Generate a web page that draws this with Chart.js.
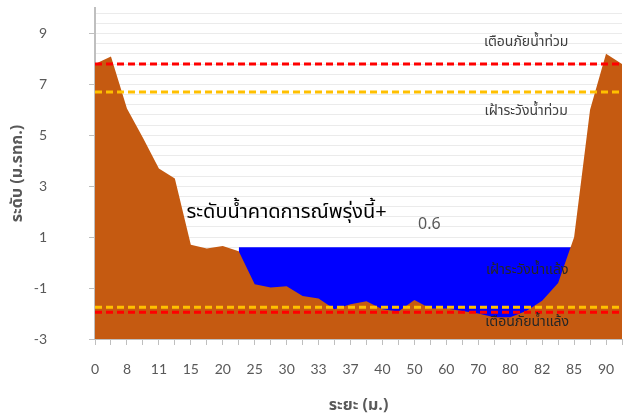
<!DOCTYPE html>
<html><head><meta charset="utf-8">
<script src="https://cdn.jsdelivr.net/npm/chart.js@4/dist/chart.umd.min.js"></script>
<style>html,body{margin:0;padding:0;background:#fff}</style>
</head><body>
<canvas id="c" width="624" height="419"></canvas>
<script>
// ---- data ----
const categories = ['0','','8','','11','','15','','20','','25','','30','','33','','37','','40','','50','','60','','70','','80','','82','','85','','90',''];
const terrainLevel = [7.8, 8.1, 6.05, 4.9, 3.7, 3.3, 0.7, 0.55, 0.65, 0.45, -0.85, -0.98, -0.93, -1.31, -1.41, -1.83, -1.64, -1.52, -1.83, -1.92, -1.47, -1.8, -1.8, -1.9, -2.0, -2.15, -2.15, -1.9, -1.5, -0.8, 1.0, 6.0, 8.2, 7.8];
const forecastWater = [null,null,null,null,null,null,null,null,null,0.6,0.6,0.6,0.6,0.6,0.6,0.6,0.6,0.6,0.6,0.6,0.6,0.6,0.6,0.6,0.6,0.6,0.6,0.6,0.6,0.6,0.6,0.6,0.6,0.6];
const forecastLevel = 0.6;
const floodWarning = 7.8;
const floodWatch = 6.7;
const droughtWatch = -1.75;
const droughtWarning = -1.95;
const yTickLabels = [-3, -1, 1, 3, 5, 7, 9];
const txtFloodWarning = 'เตือนภัยน้ำท่วม';
const txtFloodWatch = 'เฝ้าระวังน้ำท่วม';
const txtDroughtWatch = 'เฝ้าระวังน้ำแล้ง';
const txtDroughtWarning = 'เตือนภัยน้ำแล้ง';
const txtForecast = 'ระดับน้ำคาดการณ์พรุ่งนี้+';
const yTitle = 'ระดับ (ม.รทก.)';
const xTitle = 'ระยะ (ม.)';

const FONT = "'Noto Sans Thai', Tahoma, 'Leelawadee UI', Lato, 'Noto Sans', sans-serif";
const isLabeled = v => yTickLabels.some(t => Math.abs(t - v) < 1e-6);

const annot = {
  id: 'annot',
  afterDatasetsDraw(chart) {
    const {ctx, scales: {x, y}} = chart;
    ctx.save();
    ctx.textAlign = 'center';
    ctx.textBaseline = 'middle';
    ctx.font = '14px ' + FONT;
    ctx.fillStyle = '#404040';
    const lx = x.getPixelForValue(27);
    ctx.fillText(txtFloodWarning, lx, y.getPixelForValue(floodWarning) - 21);
    ctx.fillText(txtFloodWatch, lx, y.getPixelForValue(floodWatch) + 20);
    ctx.fillStyle = '#262626';
    ctx.fillText(txtDroughtWatch, lx + 1, y.getPixelForValue(droughtWatch) - 36);
    ctx.fillText(txtDroughtWarning, lx + 1, y.getPixelForValue(droughtWarning) + 11);
    ctx.font = '20px ' + FONT;
    ctx.fillStyle = '#000000';
    ctx.fillText(txtForecast, x.getPixelForValue(12), y.getPixelForValue(forecastLevel) - 33);
    ctx.font = '16px ' + FONT;
    ctx.fillStyle = '#595959';
    ctx.fillText(String(forecastLevel), x.getPixelForValue(21) - 1, y.getPixelForValue(forecastLevel) - 22);
    ctx.restore();
  }
};

const lineDs = (level, color) => ({
  data: categories.map(() => level),
  borderColor: color, borderWidth: 3, borderDash: [7, 4],
  pointRadius: 0, fill: false, order: 0
});

new Chart(document.getElementById('c'), {
  type: 'line',
  data: {
    labels: categories,
    datasets: [
      lineDs(floodWarning, '#FF0000'),
      lineDs(floodWatch, '#FFC000'),
      lineDs(droughtWatch, '#FFC000'),
      lineDs(droughtWarning, '#FF0000'),
      { data: terrainLevel, borderWidth: 0, borderColor: '#C55A11', backgroundColor: '#C55A11', fill: 'start', pointRadius: 0, tension: 0, order: 1 },
      { data: forecastWater, borderWidth: 0, borderColor: '#0000FF', backgroundColor: '#0000FF', fill: 'start', pointRadius: 0, tension: 0, spanGaps: false, order: 2 }
    ]
  },
  options: {
    responsive: false, animation: false, devicePixelRatio: 1,
    layout: { padding: { top: 8, right: 2, left: 0, bottom: 0 } },
    plugins: { legend: { display: false }, tooltip: { enabled: false } },
    scales: {
      x: {
        offset: false,
        afterFit(s) { s.height = 80; s.paddingLeft = 0; s.paddingRight = 0; },
        grid: { drawOnChartArea: false, drawTicks: true, tickLength: 6, tickColor: '#bfbfbf' },
        border: { color: '#bfbfbf', width: 1 },
        ticks: { autoSkip: false, maxRotation: 0, minRotation: 0, padding: 16, color: '#595959', font: { family: 'Lato', size: 14 } },
        title: { display: true, text: xTitle, color: '#595959', font: { family: FONT, size: 16, weight: 'bold' }, padding: { top: 0, bottom: 3 } }
      },
      y: {
        min: -3, max: 10,
        afterFit(s) { s.width = 95; s.paddingTop = 0; s.paddingBottom = 0; },
        afterBuildTicks(s) {
          const t = [];
          for (let k = 0; k <= 32; k++) t.push({ value: Math.round((-3 + 0.4 * k) * 10) / 10 });
          s.ticks = t;
        },
        grid: {
          color: '#ebebeb', lineWidth: 1, drawTicks: true, tickLength: 6,
          tickColor: ctx => (ctx.tick && isLabeled(ctx.tick.value)) ? '#bfbfbf' : 'rgba(0,0,0,0)'
        },
        border: { color: '#bfbfbf', width: 2 },
        ticks: {
          autoSkip: false, padding: 42, color: '#595959', font: { family: 'Lato', size: 14 },
          callback: v => isLabeled(v) ? String(Math.round(v)) : ''
        },
        title: { display: true, text: yTitle, color: '#595959', font: { family: FONT, size: 16, weight: 'bold' }, padding: { top: 9, bottom: 0 } }
      }
    }
  },
  plugins: [annot]
});
</script>
</body></html>
